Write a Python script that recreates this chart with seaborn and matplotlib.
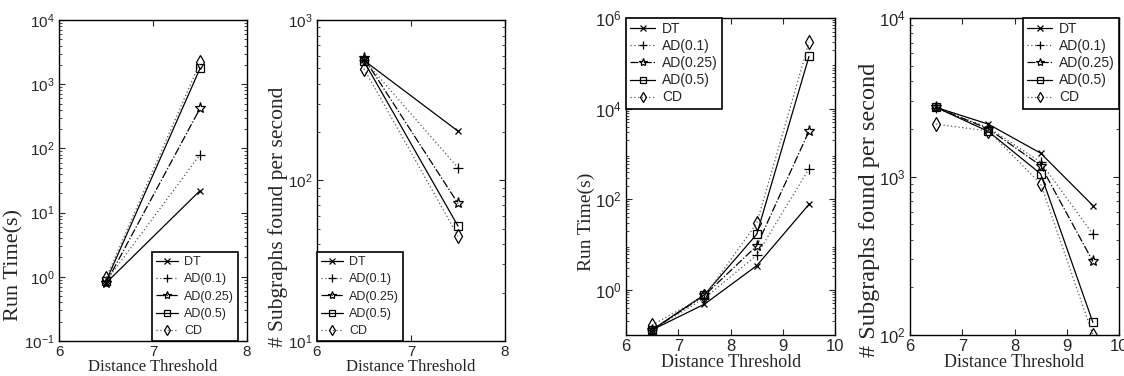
import matplotlib
matplotlib.use('Agg')
import matplotlib.pyplot as plt
import matplotlib.ticker as mticker
import seaborn as sns

# --- Data ---
methods = ['DT', 'AD(0.1)', 'AD(0.25)', 'AD(0.5)', 'CD']

x_small = [6.5, 7.5]
x_large = [6.5, 7.5, 8.5, 9.5]

# dataset 1: run time and throughput
runtime_1 = {
    'DT': [0.80, 22],
    'AD(0.1)': [0.85, 80],
    'AD(0.25)': [0.80, 420],
    'AD(0.5)': [0.85, 1760],
    'CD': [0.95, 2180],
}
rate_1 = {
    'DT': [560, 203],
    'AD(0.1)': [565, 120],
    'AD(0.25)': [580, 72],
    'AD(0.5)': [553, 52],
    'CD': [497, 45],
}

# dataset 2: run time and throughput
runtime_2 = {
    'DT': [0.13, 0.48, 3.4, 77],
    'AD(0.1)': [0.13, 0.65, 5.8, 470],
    'AD(0.25)': [0.13, 0.75, 9.3, 3180],
    'AD(0.5)': [0.13, 0.78, 16.8, 142000],
    'CD': [0.167, 0.72, 29.4, 290000],
}
rate_2 = {
    'DT': [2730, 2140, 1404, 656],
    'AD(0.1)': [2700, 2040, 1232, 432],
    'AD(0.25)': [2730, 2000, 1173, 291],
    'AD(0.5)': [2730, 1925, 1040, 120],
    'CD': [2140, 1940, 899, 100],
}

# --- Style ---
sns.set_style('ticks')
plt.rcParams['font.family'] = ['Liberation Sans', 'DejaVu Sans']
plt.rcParams['mathtext.fontset'] = 'custom'
plt.rcParams['mathtext.rm'] = 'Liberation Sans'
plt.rcParams['mathtext.it'] = 'Liberation Sans'

dotted = (0, (1, 2))
line_styles = {
    'DT': dict(linestyle='-', marker='x', markersize=5, color='black'),
    'AD(0.1)': dict(linestyle=dotted, marker='+', markersize=7, color='0.35'),
    'AD(0.25)': dict(linestyle='-.', marker='*', markersize=8, color='black'),
    'AD(0.5)': dict(linestyle='-', marker='s', markersize=5.5, color='black'),
    'CD': dict(linestyle=dotted, marker='d', markersize=7, color='0.35'),
}

serif = ['Liberation Serif', 'DejaVu Serif']

fig = plt.figure(figsize=(11.24, 3.76), dpi=100)

panels = [
    dict(rect=[0.0525, 0.0931, 0.1673, 0.8537], x=x_small, data=runtime_1,
         ylim=(1e-1, 1e4), yticks=[1e-1, 1, 1e1, 1e2, 1e3, 1e4], xlim=(6, 8),
         ylabel='Run Time(s)', yl_pos=(-0.19, 0.237), loc='lower right',
         anchor=(0.952, 0.0), tick_fs=11, xl_fs=12, yl_fs=16, leg_fs=9, ls=0.42),
    dict(rect=[0.282, 0.0931, 0.1673, 0.8537], x=x_small, data=rate_1,
         ylim=(1e1, 1e3), yticks=[1e1, 1e2, 1e3], xlim=(6, 8),
         ylabel='# Subgraphs found per second', yl_pos=(-0.154, 0.386),
         loc='lower left', anchor=(0.0, 0.0),
         tick_fs=11, xl_fs=12, yl_fs=15.5, leg_fs=9, ls=0.42),
    dict(rect=[0.557, 0.109, 0.186, 0.843], x=x_large, data=runtime_2,
         ylim=(1e-1, 1e6), yticks=[1, 1e2, 1e4, 1e6], xlim=(6, 10),
         ylabel='Run Time(s)', yl_pos=(-0.148, 0.356), loc='upper left',
         anchor=(0.0, 1.0), tick_fs=12, xl_fs=13, yl_fs=14, leg_fs=10, ls=0.22),
    dict(rect=[0.8096, 0.109, 0.186, 0.843], x=x_large, data=rate_2,
         ylim=(1e2, 1e4), yticks=[1e2, 1e3, 1e4], xlim=(6, 10),
         ylabel='# Subgraphs found per second', yl_pos=(-0.144, 0.394),
         loc='upper right', anchor=(1.0, 1.0),
         tick_fs=12, xl_fs=13, yl_fs=17.5, leg_fs=10, ls=0.22),
]

for p in panels:
    ax = fig.add_axes(p['rect'])
    for m in methods:
        st = line_styles[m]
        sns.lineplot(x=p['x'], y=p['data'][m], ax=ax,
                     linewidth=0.9, markerfacecolor='none',
                     markeredgecolor='black', markeredgewidth=0.9,
                     label=m, **st)
    ax.set_yscale('log')
    ax.set_xlim(*p['xlim'])
    ax.set_ylim(*p['ylim'])
    ax.set_xticks(range(int(p['xlim'][0]), int(p['xlim'][1]) + 1))
    ax.yaxis.set_major_locator(mticker.FixedLocator(p['yticks']))
    ax.yaxis.set_major_formatter(mticker.LogFormatterMathtext())
    ax.yaxis.set_minor_locator(mticker.LogLocator(base=10, subs=range(2, 10), numticks=20))
    ax.yaxis.set_minor_formatter(mticker.NullFormatter())
    ax.tick_params(direction='in', top=True, right=True, labelsize=p['tick_fs'],
                   length=4, width=0.8, pad=3)
    ax.tick_params(which='minor', direction='in', right=True, length=2, width=0.6)
    for s in ax.spines.values():
        s.set_linewidth(1.0)
        s.set_color('black')
    ax.set_xlabel('Distance Threshold', fontsize=p['xl_fs'], family=serif, labelpad=0)
    ax.set_ylabel(p['ylabel'], fontsize=p['yl_fs'], family=serif)
    ax.yaxis.set_label_coords(*p['yl_pos'])
    leg = ax.legend(loc=p['loc'], bbox_to_anchor=p['anchor'], borderaxespad=0,
                    fontsize=p['leg_fs'], handlelength=1.8, handletextpad=0.5,
                    labelspacing=p['ls'], borderpad=0.3, fancybox=False,
                    framealpha=1, edgecolor='black', markerscale=0.75)
    leg.get_frame().set_linewidth(1.2)

fig.savefig('out.png', dpi=100)
